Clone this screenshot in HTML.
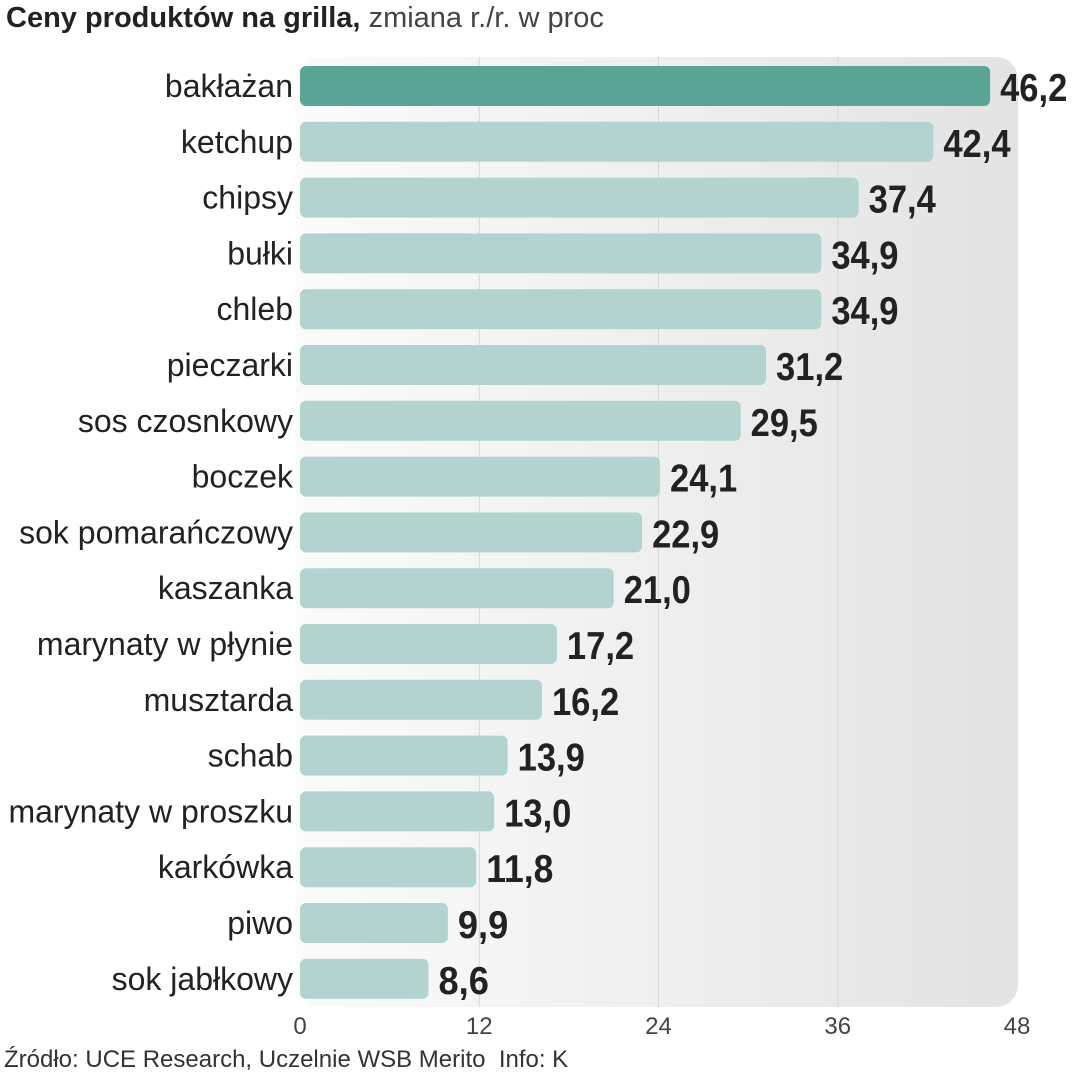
<!DOCTYPE html>
<html><head><meta charset="utf-8">
<style>
body{margin:0;width:1072px;height:1080px;background:#fff;overflow:hidden;font-family:"Liberation Sans",sans-serif;color:#222}
#t{position:absolute;left:6px;top:2px;font-size:29px;white-space:nowrap}
#t b{font-weight:bold}
#t span{color:#444}
#src{position:absolute;left:4px;top:1046px;font-size:24px;color:#333;white-space:nowrap}
</style></head><body>
<div id="t"><b>Ceny produktów na grilla,</b> <span>zmiana r./r. w proc</span></div>
<svg id="c" width="1072" height="1080" style="position:absolute;left:0;top:0">
<defs><linearGradient id="g" x1="0" x2="1"><stop offset="0" stop-color="#fbfbfb"/><stop offset="1" stop-color="#e3e3e3"/></linearGradient></defs>
<rect x="296" y="57" width="722" height="950" rx="22" fill="url(#g)"/>
</svg>
<div id="src">Źródło: UCE Research, Uczelnie WSB Merito&nbsp; Info: K</div>
<script>
const categories=["bakłażan","ketchup","chipsy","bułki","chleb","pieczarki","sos czosnkowy","boczek","sok pomarańczowy","kaszanka","marynaty w płynie","musztarda","schab","marynaty w proszku","karkówka","piwo","sok jabłkowy"];
const values=[46.2,42.4,37.4,34.9,34.9,31.2,29.5,24.1,22.9,21.0,17.2,16.2,13.9,13.0,11.8,9.9,8.6];
const ticks=[0,12,24,36,48];
const NS="http://www.w3.org/2000/svg";
const svg=document.getElementById('c');
const x0=300,x1=1017,xmax=48;
const xs=v=>x0+(v/xmax)*(x1-x0);
const rowTop=66,step=55.8,bh=40;
const ys=i=>rowTop+i*step;
function el(t,a){const e=document.createElementNS(NS,t);for(const k in a)e.setAttribute(k,a[k]);svg.appendChild(e);return e;}
ticks.forEach((t,i)=>{
  if(i>0&&i<ticks.length-1){const l=el('line',{x1:xs(t),x2:xs(t),y1:57,y2:1007,stroke:'#d6d6d6','stroke-width':1});
  
  }
  const tx=el('text',{x:xs(t),y:1034,'text-anchor':'middle','font-size':24,fill:'#444'});
  tx.textContent=t;
  
  
});
categories.forEach((c,i)=>{
  const y=ys(i);
  const r=el('rect',{x:x0,y:y,width:xs(values[i])-x0,height:bh,rx:6,fill:i===0?'#5ba596':'#b3d4ce'});
  
  
  const lb=el('text',{x:293,y:y+31,'text-anchor':'end','font-size':32,fill:'#222'});
  lb.textContent=c;
  
  
  const s=values[i].toFixed(1).replace('.',',');
  const v=el('text',{x:xs(values[i])+10,y:y+35,'font-size':39,'font-weight':'bold',fill:'#222',textLength:s.length*16.8,lengthAdjust:'spacingAndGlyphs'});
  v.textContent=s;
  
  
});
</script>
</body></html>
